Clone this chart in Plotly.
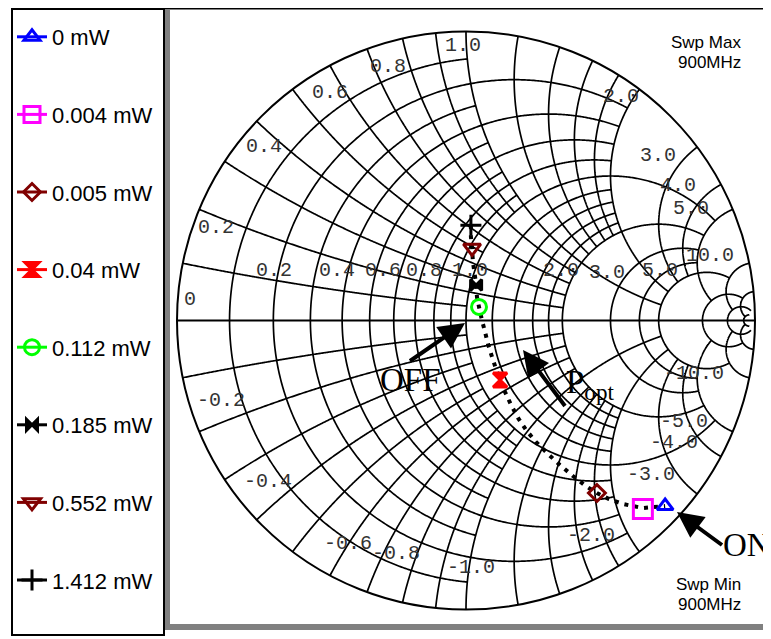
import numpy as np
import plotly.graph_objects as go

# page is 771x639; the html body adds an 8px margin, so the figure itself is smaller
PAGE_OFF = 8
W, H = 771 - PAGE_OFF, 639 - PAGE_OFF

# ---------------- data: measured load reflection coefficient (Gamma) -------------
power_labels = ["0 mW", "0.004 mW", "0.005 mW", "0.04 mW",
                "0.112 mW", "0.185 mW", "0.552 mW", "1.412 mW"]
gamma_re = [0.689, 0.612, 0.453, 0.118, 0.045, 0.035, 0.021, 0.017]
gamma_im = [-0.642, -0.652, -0.597, -0.206, 0.047, 0.123, 0.251, 0.330]
colors = ["#0000FF", "#FF00FF", "#800000", "#FF0000",
          "#00FF00", "#000000", "#800000", "#000000"]
symbols = ["triangle-up-open", "square-open", "diamond-open", "hourglass",
           "circle-open", "bowtie", "triangle-down-open", "cross-thin-open"]
sizes = [14, 19, 13, 14, 15, 11, 15, 15]

# sweep path (dotted trajectory), Gamma
path_re = [0.017, 0.017, 0.021, 0.024, 0.031, 0.035, 0.038, 0.045, 0.055, 0.066,
           0.076, 0.090, 0.104, 0.118, 0.135, 0.156, 0.180, 0.208, 0.242, 0.284,
           0.325, 0.370, 0.415, 0.453, 0.495, 0.543, 0.612, 0.689]
path_im = [0.330, 0.289, 0.251, 0.202, 0.154, 0.123, 0.081, 0.047, 0.002, -0.040,
           -0.081, -0.126, -0.168, -0.206, -0.247, -0.292, -0.337, -0.379, -0.420, -0.462,
           -0.500, -0.538, -0.573, -0.597, -0.618, -0.635, -0.649, -0.642]

# ---------------- Smith grid definition -------------------------------------------
# (resistance values, max |reactance| drawn)
r_grid = [([0.1, 0.3, 0.5, 0.7, 0.9], 1.0),
          ([0.2, 0.4, 0.6, 0.8], 2.0),
          ([1.2, 1.4, 1.6, 1.8], 2.0),
          ([1.0, 2.0, 3.0, 4.0], 5.0),
          ([5.0], 10.0),
          ([10.0], 20.0),
          ([20.0, 50.0], 50.0)]
# (reactance values, max resistance drawn)
x_grid = [([0.1, 0.3, 0.5, 0.7, 0.9], 1.0),
          ([0.2, 0.4, 0.6, 0.8], 2.0),
          ([1.2, 1.4, 1.6, 1.8], 2.0),
          ([1.0, 2.0, 3.0, 4.0], 5.0),
          ([5.0], 10.0),
          ([10.0], 20.0),
          ([20.0], 50.0)]

real_tick_labels = ["0.2", "0.4", "0.6", "0.8", "1.0", "2.0", "3.0", "5.0"]
imag_tick_labels = ["0.2", "0.4", "0.6", "0.8", "1.0", "2.0", "3.0", "4.0", "5.0", "10.0",
                    "-0.2", "-0.4", "-0.6", "-0.8", "-1.0", "-2.0", "-3.0", "-4.0", "-5.0", "-10.0"]


def P(px, py):
    """page pixel -> paper coordinate"""
    return (px - PAGE_OFF) / W, 1 - (py - PAGE_OFF) / H


def to_z(gr, gi):
    g = np.asarray(gr) + 1j * np.asarray(gi)
    z = (1 + g) / (1 - g)
    return z.real, z.imag


N = 500
gr_re, gr_im = [], []
for vals, xmax in r_grid:
    for r in vals:
        xs = np.linspace(-xmax, xmax, N)
        gr_re += [r] * N + [None]
        gr_im += list(xs) + [None]
for vals, rmax in x_grid:
    for x in vals:
        rs = np.linspace(0, rmax, N)
        for s in (1, -1):
            gr_re += list(rs) + [None]
            gr_im += [s * x] * N + [None]

fig = go.Figure()
fig.add_trace(go.Scattersmith(real=gr_re, imag=gr_im, mode="lines",
                              line=dict(color="black", width=1.7),
                              hoverinfo="skip", showlegend=False))
# real axis line
ax_r = list(np.geomspace(1e-4, 1e4, 400))
fig.add_trace(go.Scattersmith(real=[0] + ax_r, imag=[0] * (len(ax_r) + 1), mode="lines",
                              line=dict(color="black", width=2),
                              hoverinfo="skip", showlegend=False))

# dotted sweep trajectory
pz_re, pz_im = to_z(path_re, path_im)
fig.add_trace(go.Scattersmith(real=pz_re, imag=pz_im, mode="lines",
                              line=dict(color="black", width=4, dash="4px,6px"),
                              hoverinfo="skip", showlegend=False))

mz_re, mz_im = to_z(gamma_re, gamma_im)
for i, name in enumerate(power_labels):
    fig.add_trace(go.Scattersmith(
        real=[mz_re[i]], imag=[mz_im[i]], mode="lines+markers", name=name,
        legendgroup=str(i),
        line=dict(color=colors[i], width=3),
        marker=dict(symbol=symbols[i], size=sizes[i], color=colors[i],
                    line=dict(color=colors[i], width=3))))

cx0, cy0 = P(177, 609.5)
cx1, cy1 = P(755, 31.5)

ann = []
lab_font = dict(family="Liberation Mono, DejaVu Sans Mono, monospace", size=20, color="#333333")
real_pos = [(274, 270), (337, 270), (383, 270), (424, 270), (470, 270),
            (561, 270), (607, 272), (660, 270)]
for t, (px, py) in zip(real_tick_labels, real_pos):
    x, y = P(px, py)
    ann.append(dict(x=x, y=y, text=t, showarrow=False, font=lab_font,
                    xanchor="center", yanchor="middle"))
x, y = P(190, 300)
ann.append(dict(x=x, y=y, text="0", showarrow=False, font=lab_font,
                xanchor="center", yanchor="middle"))
imag_pos = [(216, 227), (264, 146), (330, 92), (388, 66), (463, 45),
            (621, 97), (658, 155), (678, 186), (691, 208), (710, 256),
            (221, 401), (268, 481), (348, 543), (396, 553), (471, 567),
            (591, 535), (651, 475), (674, 442), (684, 421), (694, 373)]
for t, (px, py) in zip(imag_tick_labels, imag_pos):
    x, y = P(px, py)
    ann.append(dict(x=x, y=y, text=t, showarrow=False, font=lab_font,
                    xanchor="center", yanchor="middle"))

sans = dict(family="Liberation Sans, Arial, sans-serif", size=17, color="black")
for txt, py in [("Swp Max", 42), ("900MHz", 62), ("Swp Min", 584), ("900MHz", 604)]:
    x, y = P(743, py)
    ann.append(dict(x=x, y=y, text=txt, showarrow=False, font=sans,
                    xanchor="right", yanchor="middle"))

# callout texts with their arrows (head -> tail at the text box)
serif = dict(family="Liberation Serif, Times New Roman, serif", size=33, color="black")
callouts = [("OFF", (465, 323), (410, 361), "center", "top"),
            ("P<sub>opt</sub>", (523, 350), (565, 406), "left", "bottom"),
            ("ON", (677, 512), (722, 545), "left", "middle")]
for txt, (hx, hy), (tx, ty), xa, ya in callouts:
    x, y = P(hx, hy)
    ann.append(dict(x=x, y=y, text=txt, showarrow=True, ax=tx - hx, ay=ty - hy,
                    xanchor=xa, yanchor=ya, font=serif,
                    arrowhead=2, arrowsize=1.3, arrowwidth=4, arrowcolor="black",
                    standoff=0, borderpad=0))


def rect(px0, py0, px1, py1, **kw):
    x0, y0 = P(px0, py1)
    x1, y1 = P(px1, py0)
    return dict(type="rect", xref="paper", yref="paper", x0=x0, y0=y0, x1=x1, y1=y1, **kw)


lx0, ly = P(12, 8.5)
shapes = [
    rect(165, 10, 170, 630, fillcolor="#808080", line=dict(width=0)),
    rect(165, 624, 771, 630, fillcolor="#808080", line=dict(width=0)),
    rect(767, 20, 771, 630, fillcolor="#808080", line=dict(width=0)),
    rect(12, 9, 164, 635, line=dict(color="black", width=2)),
    dict(type="line", xref="paper", yref="paper", x0=lx0, x1=1, y0=ly, y1=ly,
         line=dict(color="black", width=2)),
]

lgx, lgy = P(12, 16)
fig.update_layout(
    width=W, height=H,
    margin=dict(l=0, r=0, t=0, b=0),
    paper_bgcolor="white",
    smith=dict(
        domain=dict(x=[cx0, cx1], y=[cy0, cy1]),
        bgcolor="white",
        realaxis=dict(showgrid=False, showticklabels=False, showline=False, ticks=""),
        imaginaryaxis=dict(showgrid=False, showticklabels=False, showline=True,
                           linecolor="black", linewidth=2, ticks=""),
    ),
    legend=dict(x=lgx, y=lgy, xanchor="left", yanchor="top",
                font=dict(family="Liberation Sans, Arial, sans-serif", size=22, color="black"),
                bgcolor="rgba(0,0,0,0)", tracegroupgap=46, itemwidth=30),
    annotations=ann,
    shapes=shapes,
)

fig.write_html("out.html")
